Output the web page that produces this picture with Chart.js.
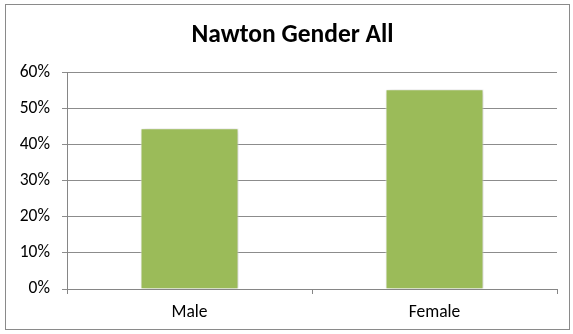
<!DOCTYPE html>
<html>
<head>
<meta charset="utf-8">
<script src="https://cdn.jsdelivr.net/npm/chart.js@4/dist/chart.umd.min.js"></script>
<style>
  html, body { margin: 0; padding: 0; background: #fff; }
  #wrap { position: relative; width: 573px; height: 334px; }
</style>
</head>
<body>
<div id="wrap"><canvas id="genderChart" width="573" height="334"></canvas></div>
<script>
const categories = ['Male', 'Female'];
const shares = [44.6, 55.4];   // percent
const yTicks = [0, 10, 20, 30, 40, 50, 60];

const fontFamily = "Carlito, Calibri, Lato, 'Liberation Sans', Arial, sans-serif";

// chart frame + soft bar shadow like the spreadsheet original
const framePlugin = {
  id: 'frame',
  afterDraw(chart) {
    const ctx = chart.ctx;
    ctx.save();
    ctx.strokeStyle = '#8a8a8a';
    ctx.lineWidth = 1;
    ctx.strokeRect(5.5, 4.5, 564, 325);
    ctx.restore();
  },
  beforeDatasetsDraw(chart) {
    const ctx = chart.ctx;
    ctx.save();
    ctx.shadowColor = 'rgba(0,0,0,0.22)';
    ctx.shadowBlur = 5;
    ctx.shadowOffsetX = 1;
    ctx.shadowOffsetY = 1;
  },
  afterDatasetsDraw(chart) {
    chart.ctx.restore();
  }
};

const ctx = document.getElementById('genderChart').getContext('2d');
const chart = new Chart(ctx, {
  type: 'bar',
  data: {
    labels: categories,
    datasets: [{
      label: 'Gender',
      data: shares,
      backgroundColor: '#9bbb59',
      borderColor: '#ffffff',
      borderWidth: 1,
      barPercentage: 0.4,
      categoryPercentage: 1.0
    }]
  },
  options: {
    responsive: false,
    animation: false,
    layout: {
      // title in the original sits a bit right of the canvas centre
      padding: { left: 12, right: 0, top: 0, bottom: 0 }
    },
    plugins: {
      legend: { display: false },
      tooltip: { enabled: false },
      title: {
        display: true,
        text: 'Nawton Gender All',
        color: '#000',
        font: { family: fontFamily, size: 25.5, weight: 'bold', lineHeight: 1.2 },
        padding: { top: 20, bottom: 22 }
      }
    },
    scales: {
      x: {
        offset: true,
        grid: {
          offset: true,
          drawOnChartArea: false,
          tickLength: 5,
          color: '#868686'
        },
        border: { color: '#868686', width: 1 },
        ticks: {
          color: '#000',
          padding: 8,
          font: { family: fontFamily, size: 17.5 }
        },
        afterFit(scale) { scale.height = 45; }
      },
      y: {
        min: 0,
        max: 60,
        afterBuildTicks(scale) {
          scale.ticks = yTicks.map(v => ({ value: v }));
        },
        grid: {
          color: '#8c8c8c',
          tickLength: 5
        },
        border: { color: '#868686', width: 1 },
        ticks: {
          color: '#000',
          padding: 12,
          font: { family: fontFamily, size: 17.5 },
          callback: v => v + '%'
        },
        afterFit(scale) { scale.width = 55; }
      },
      // empty right-hand spacer so the plot ends where the original does
      spacer: {
        position: 'right',
        min: 0,
        max: 1,
        grid: { display: false },
        border: { display: false },
        ticks: { display: false },
        afterFit(scale) { scale.width = 16; }
      }
    }
  },
  plugins: [framePlugin]
});
</script>
</body>
</html>
